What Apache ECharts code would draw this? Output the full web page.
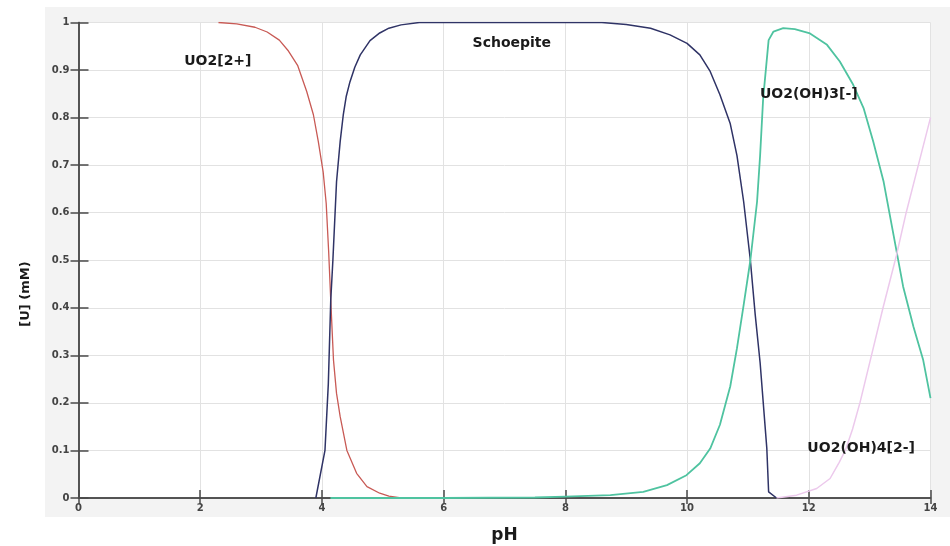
<!DOCTYPE html>
<html>
<head>
<meta charset="utf-8">
<script src="https://cdn.jsdelivr.net/npm/echarts@6/dist/echarts.min.js"></script>
<style>html,body{margin:0;padding:0;background:#fff}#c{width:950px;height:546px}</style>
</head>
<body>
<div id="c"></div>
<script>
// Data: [pH, concentration]
const uo2 = [[2.3,1.0],[2.6,0.997],[2.9,0.99],[3.1,0.98],[3.3,0.963],[3.45,0.94],[3.6,0.91],[3.75,0.855],[3.86,0.806],[3.94,0.75],[4.02,0.686],[4.07,0.62],[4.11,0.52],[4.145,0.416],[4.19,0.29],[4.24,0.22],[4.3,0.171],[4.41,0.1],[4.57,0.052],[4.74,0.024],[4.95,0.01],[5.1,0.004],[5.3,0]];
const schoepite = [[3.9,0],[4.05,0.1],[4.105,0.24],[4.145,0.416],[4.18,0.5],[4.24,0.665],[4.3,0.75],[4.35,0.805],[4.4,0.845],[4.46,0.875],[4.54,0.906],[4.63,0.932],[4.79,0.962],[4.95,0.978],[5.1,0.988],[5.3,0.995],[5.6,1.0],[8.6,1.0],[9.0,0.996],[9.4,0.988],[9.72,0.974],[10.0,0.956],[10.21,0.932],[10.38,0.897],[10.54,0.848],[10.71,0.787],[10.82,0.72],[10.93,0.623],[11.04,0.5],[11.12,0.385],[11.2,0.285],[11.31,0.105],[11.34,0.013],[11.47,0]];
const uo2oh3 = [[4.14,0],[6,0],[7.5,0.001],[8.0,0.003],[8.74,0.006],[9.28,0.013],[9.67,0.027],[9.99,0.048],[10.21,0.073],[10.38,0.104],[10.54,0.154],[10.71,0.235],[10.82,0.315],[10.93,0.406],[11.04,0.5],[11.15,0.623],[11.2,0.72],[11.25,0.84],[11.34,0.963],[11.42,0.981],[11.58,0.988],[11.77,0.986],[12.02,0.977],[12.3,0.953],[12.51,0.918],[12.73,0.869],[12.9,0.82],[13.06,0.749],[13.23,0.665],[13.39,0.555],[13.55,0.445],[13.72,0.36],[13.88,0.29],[14.0,0.21]];
const uo2oh4 = [[11.47,0],[11.8,0.006],[12.13,0.02],[12.35,0.041],[12.5,0.075],[12.6,0.1],[12.72,0.145],[12.84,0.2],[13.03,0.3],[13.22,0.4],[13.44,0.51],[13.6,0.6],[13.8,0.7],[14.0,0.8]];
const speciesLabels = ['UO2[2+]','Schoepite','UO2(OH)3[-]','UO2(OH)4[2-]'];
const labelAnchors = [[2.29,0.919],[7.12,0.957],[12.0,0.848],[12.86,0.105]];
const xTitle = 'pH';
const yTitle = '[U] (mM)';

const chart = echarts.init(document.getElementById('c'), null, {renderer:'canvas'});
const axisColor = '#4a4a4a';
const FONT = 'DejaVu Sans';
const lineSeries = (name, data, color, width) => ({
  name, type:'line', data, showSymbol:false, symbol:'none', smooth:false,
  lineStyle:{color, width}, itemStyle:{color}, z:3, silent:true
});
chart.setOption({
  backgroundColor:'#ffffff',
  animation:false,
  graphic:[
    {type:'rect', shape:{x:45,y:7,width:905,height:510}, style:{fill:'#f3f3f3'}, z:-100},
    {type:'text', x:26, y:294, rotation:Math.PI/2, style:{text:yTitle, font:'bold 13px "DejaVu Sans"', fill:'#1a1a1a', align:'center', verticalAlign:'middle'}}
  ],
  grid:{left:78.5, right:19.5, top:22.5, bottom:48, show:true, backgroundColor:'#ffffff', borderWidth:0, outerBoundsMode:'none', containLabel:false},
  xAxis:[
    {type:'value', min:0, max:14, interval:2, position:'bottom',
     name:xTitle, nameLocation:'middle', nameGap:29,
     nameTextStyle:{fontFamily:FONT, fontWeight:'bold', fontSize:17, color:'#1a1a1a'},
     axisLine:{lineStyle:{color:axisColor, width:1.5}},
     axisTick:{inside:true, length:8, lineStyle:{color:axisColor, width:1.5}},
     axisLabel:{fontFamily:FONT, fontWeight:'bold', fontSize:10, color:'#444', margin:5},
     splitLine:{show:true, lineStyle:{color:'#e2e2e2', width:1}}},
    {type:'value', min:0, max:14, interval:2, position:'top',
     axisLine:{show:true, lineStyle:{color:axisColor, width:1.5}},
     axisTick:{show:true, inside:true, length:6, lineStyle:{color:axisColor, width:1.5}},
     axisLabel:{show:false}, splitLine:{show:false}}
  ],
  yAxis:[
    {type:'value', min:0, max:1, interval:0.1, position:'left',
     axisLine:{show:true, lineStyle:{color:axisColor, width:1.5}},
     axisTick:{show:true, inside:true, length:10, lineStyle:{color:axisColor, width:1.5}},
     axisLabel:{fontFamily:FONT, fontWeight:'bold', fontSize:10, color:'#444', margin:9},
     splitLine:{show:true, lineStyle:{color:'#e2e2e2', width:1}}},
    {type:'value', min:0, max:1, interval:0.1, position:'right',
     axisLine:{show:true, lineStyle:{color:axisColor, width:1.5}},
     axisTick:{show:true, inside:true, length:8, lineStyle:{color:axisColor, width:1.5}},
     axisLabel:{show:false}, splitLine:{show:false}}
  ],
  series:[
    lineSeries('UO2[2+]', uo2, '#c85a55', 1.3),
    lineSeries('Schoepite', schoepite, '#2f3366', 1.5),
    lineSeries('UO2(OH)3[-]', uo2oh3, '#4fc3a0', 1.8),
    lineSeries('UO2(OH)4[2-]', uo2oh4, '#ecc9ec', 1.5),
    {type:'scatter', symbolSize:0, silent:true, z:5, itemStyle:{opacity:1},
     data: labelAnchors.map((p,i)=>({value:p, name:speciesLabels[i]})),
     label:{show:true, position:'inside', formatter:'{b}', fontFamily:FONT, fontWeight:'bold', fontSize:14, color:'#1a1a1a', textBorderWidth:0, opacity:1}}
  ]
});
</script>
</body>
</html>
